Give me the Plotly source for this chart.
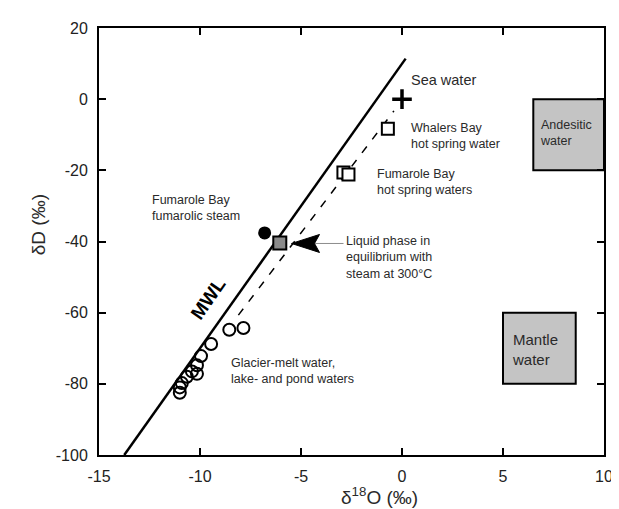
import plotly.graph_objects as go

# ---------------- data ----------------
glacier_d18O = [-8.55, -7.85, -9.45, -9.95, -10.15, -10.4, -10.15, -10.65, -10.9, -11.0, -11.0]
glacier_dD = [-64.8, -64.3, -68.8, -72.2, -74.8, -76.5, -77.2, -78.0, -79.8, -81.0, -82.5]

fumarole_hs_d18O = [-2.9, -2.65]
fumarole_hs_dD = [-20.6, -21.2]

whalers_d18O = [-0.7]
whalers_dD = [-8.3]

steam_d18O = [-6.8]
steam_dD = [-37.6]

liquid_d18O = [-6.05]
liquid_dD = [-40.4]

seawater_d18O = [0.0]
seawater_dD = [0.0]

mwl_d18O = [-13.75, 0.18]
mwl_dD = [-100.0, 11.4]

trend_d18O = [-8.1, -0.4]
trend_dD = [-60.7, -3.3]

andesitic_d18O = [6.5, 10.0]
andesitic_dD = [-20.0, 0.0]
mantle_d18O = [5.0, 8.6]
mantle_dD = [-80.0, -60.0]

x_ticks = [-15, -10, -5, 0, 5, 10]
x_ticktext = ["-15", "-10", "-5", "0", "5", "10"]
y_ticks = [-100, -80, -60, -40, -20, 0, 20]
y_ticktext = ["-100", "-80", "-60", "-40", "-20", "0", "20"]

# ---------------- layout geometry ----------------
W, H = 619, 509
L, R, T, B = 91, 23, 14, 62
PW, PH = W - L - R, H - T - B
FONT = "Liberation Sans, Arial, sans-serif"


def P(px, py):
    """pixel -> paper coordinates"""
    return (px - L) / PW, (H - B - py) / PH


def DX(px):
    return (px - L) / PW * 25 - 15


def DY(py):
    return (H - B - py) / PH * 120 - 100


fig = go.Figure()

fig.add_trace(go.Scatter(x=mwl_d18O, y=mwl_dD, mode="lines",
                         line=dict(color="black", width=2.5), hoverinfo="skip"))
fig.add_trace(go.Scatter(x=trend_d18O, y=trend_dD, mode="lines",
                         line=dict(color="black", width=1.5, dash="8px,9px"), hoverinfo="skip"))

fig.add_trace(go.Scatter(x=glacier_d18O, y=glacier_dD, mode="markers",
                         marker=dict(symbol="circle-open", size=12, color="black",
                                     line=dict(width=2, color="black"))))
fig.add_trace(go.Scatter(x=fumarole_hs_d18O, y=fumarole_hs_dD, mode="markers",
                         marker=dict(symbol="square", size=12, color="white",
                                     line=dict(width=2, color="black"))))
fig.add_trace(go.Scatter(x=whalers_d18O, y=whalers_dD, mode="markers",
                         marker=dict(symbol="square", size=12, color="white",
                                     line=dict(width=2, color="black"))))
fig.add_trace(go.Scatter(x=steam_d18O, y=steam_dD, mode="markers",
                         marker=dict(symbol="circle", size=13, color="black",
                                     line=dict(width=0))))
fig.add_trace(go.Scatter(x=liquid_d18O, y=liquid_dD, mode="markers",
                         marker=dict(symbol="square", size=13, color="#8a8a8a",
                                     line=dict(width=2, color="black"))))
fig.add_trace(go.Scatter(x=seawater_d18O, y=seawater_dD, mode="markers",
                         marker=dict(symbol="cross-thin", size=14,
                                     line=dict(width=3.5, color="black"))))

shapes = [
    dict(type="rect", xref="x", yref="y", x0=andesitic_d18O[0], x1=andesitic_d18O[1],
         y0=andesitic_dD[0], y1=andesitic_dD[1], fillcolor="#c4c4c4",
         line=dict(color="black", width=2), layer="below"),
    dict(type="rect", xref="x", yref="y", x0=mantle_d18O[0], x1=mantle_d18O[1],
         y0=mantle_dD[0], y1=mantle_dD[1], fillcolor="#c4c4c4",
         line=dict(color="black", width=2), layer="below"),
]

# arrow pointing to the liquid-phase square
tipx, tipy = DX(283.5), DY(232.5)
shapes.append(dict(type="line", xref="x", yref="y", xsizemode="pixel", ysizemode="pixel",
                   xanchor=tipx, yanchor=tipy, x0=22, x1=52, y0=0, y1=0,
                   line=dict(color="#8c8c8c", width=1)))
shapes.append(dict(type="path", xref="x", yref="y", xsizemode="pixel", ysizemode="pixel",
                   xanchor=tipx, yanchor=tipy, path="M0,0 L28,9 L23,0 L28,-9 Z",
                   fillcolor="black", line=dict(color="black", width=1)))

TXT = "#2a2a2a"


def label(text, px, py, size=12.5, xanchor="left", **kw):
    x, y = P(px, py)
    return dict(text=text, x=x, y=y, xref="paper", yref="paper", showarrow=False,
                xanchor=xanchor, yanchor="middle", align="left",
                font=dict(family=FONT, size=size, color=kw.pop("color", TXT)), **kw)


annotations = [
    label("Sea water", 401, 67, size=14.5),
    label("Whalers Bay<br>hot spring water", 401, 124, size=12.5),
    label("Fumarole Bay<br>hot spring waters", 367, 170, size=12.5),
    label("Fumarole Bay<br>fumarolic steam", 142, 197, size=12.5),
    label("Liquid phase in<br>equilibrium with<br>steam at 300°C", 336, 247, size=12.5),
    label("Glacier-melt water,<br>lake- and pond waters", 221, 362, size=12.5),
    label("Andesitic<br>water", 530, 120, size=12.5),
    label("Mantle<br>water", 502, 340, size=15),
    label("<b>MWL</b>", 200, 288, size=19, xanchor="center", textangle=-55, color="black"),
    label("δ<sup>18</sup>O (‰)", 371, 489, size=19, xanchor="center"),
    label("δD (‰)", 30, 214, size=19, xanchor="center", textangle=-90),
]

axis_common = dict(showline=True, linewidth=2, linecolor="black", mirror="ticks",
                   ticks="inside", ticklen=7, tickwidth=2, tickcolor="black",
                   showgrid=False, zeroline=False,
                   tickfont=dict(family=FONT, size=16, color="#222"))

fig.update_layout(
    width=W, height=H,
    margin=dict(l=L, r=R, t=T, b=B, pad=0),
    plot_bgcolor="white", paper_bgcolor="white",
    showlegend=False,
    xaxis=dict(range=[-15, 10], tickvals=x_ticks, ticktext=x_ticktext,
               ticklabelstandoff=6, **axis_common),
    yaxis=dict(range=[-100, 20], tickvals=y_ticks, ticktext=y_ticktext,
               ticklabelstandoff=6, **axis_common),
    shapes=shapes,
    annotations=annotations,
)

fig.write_html("out.html")
